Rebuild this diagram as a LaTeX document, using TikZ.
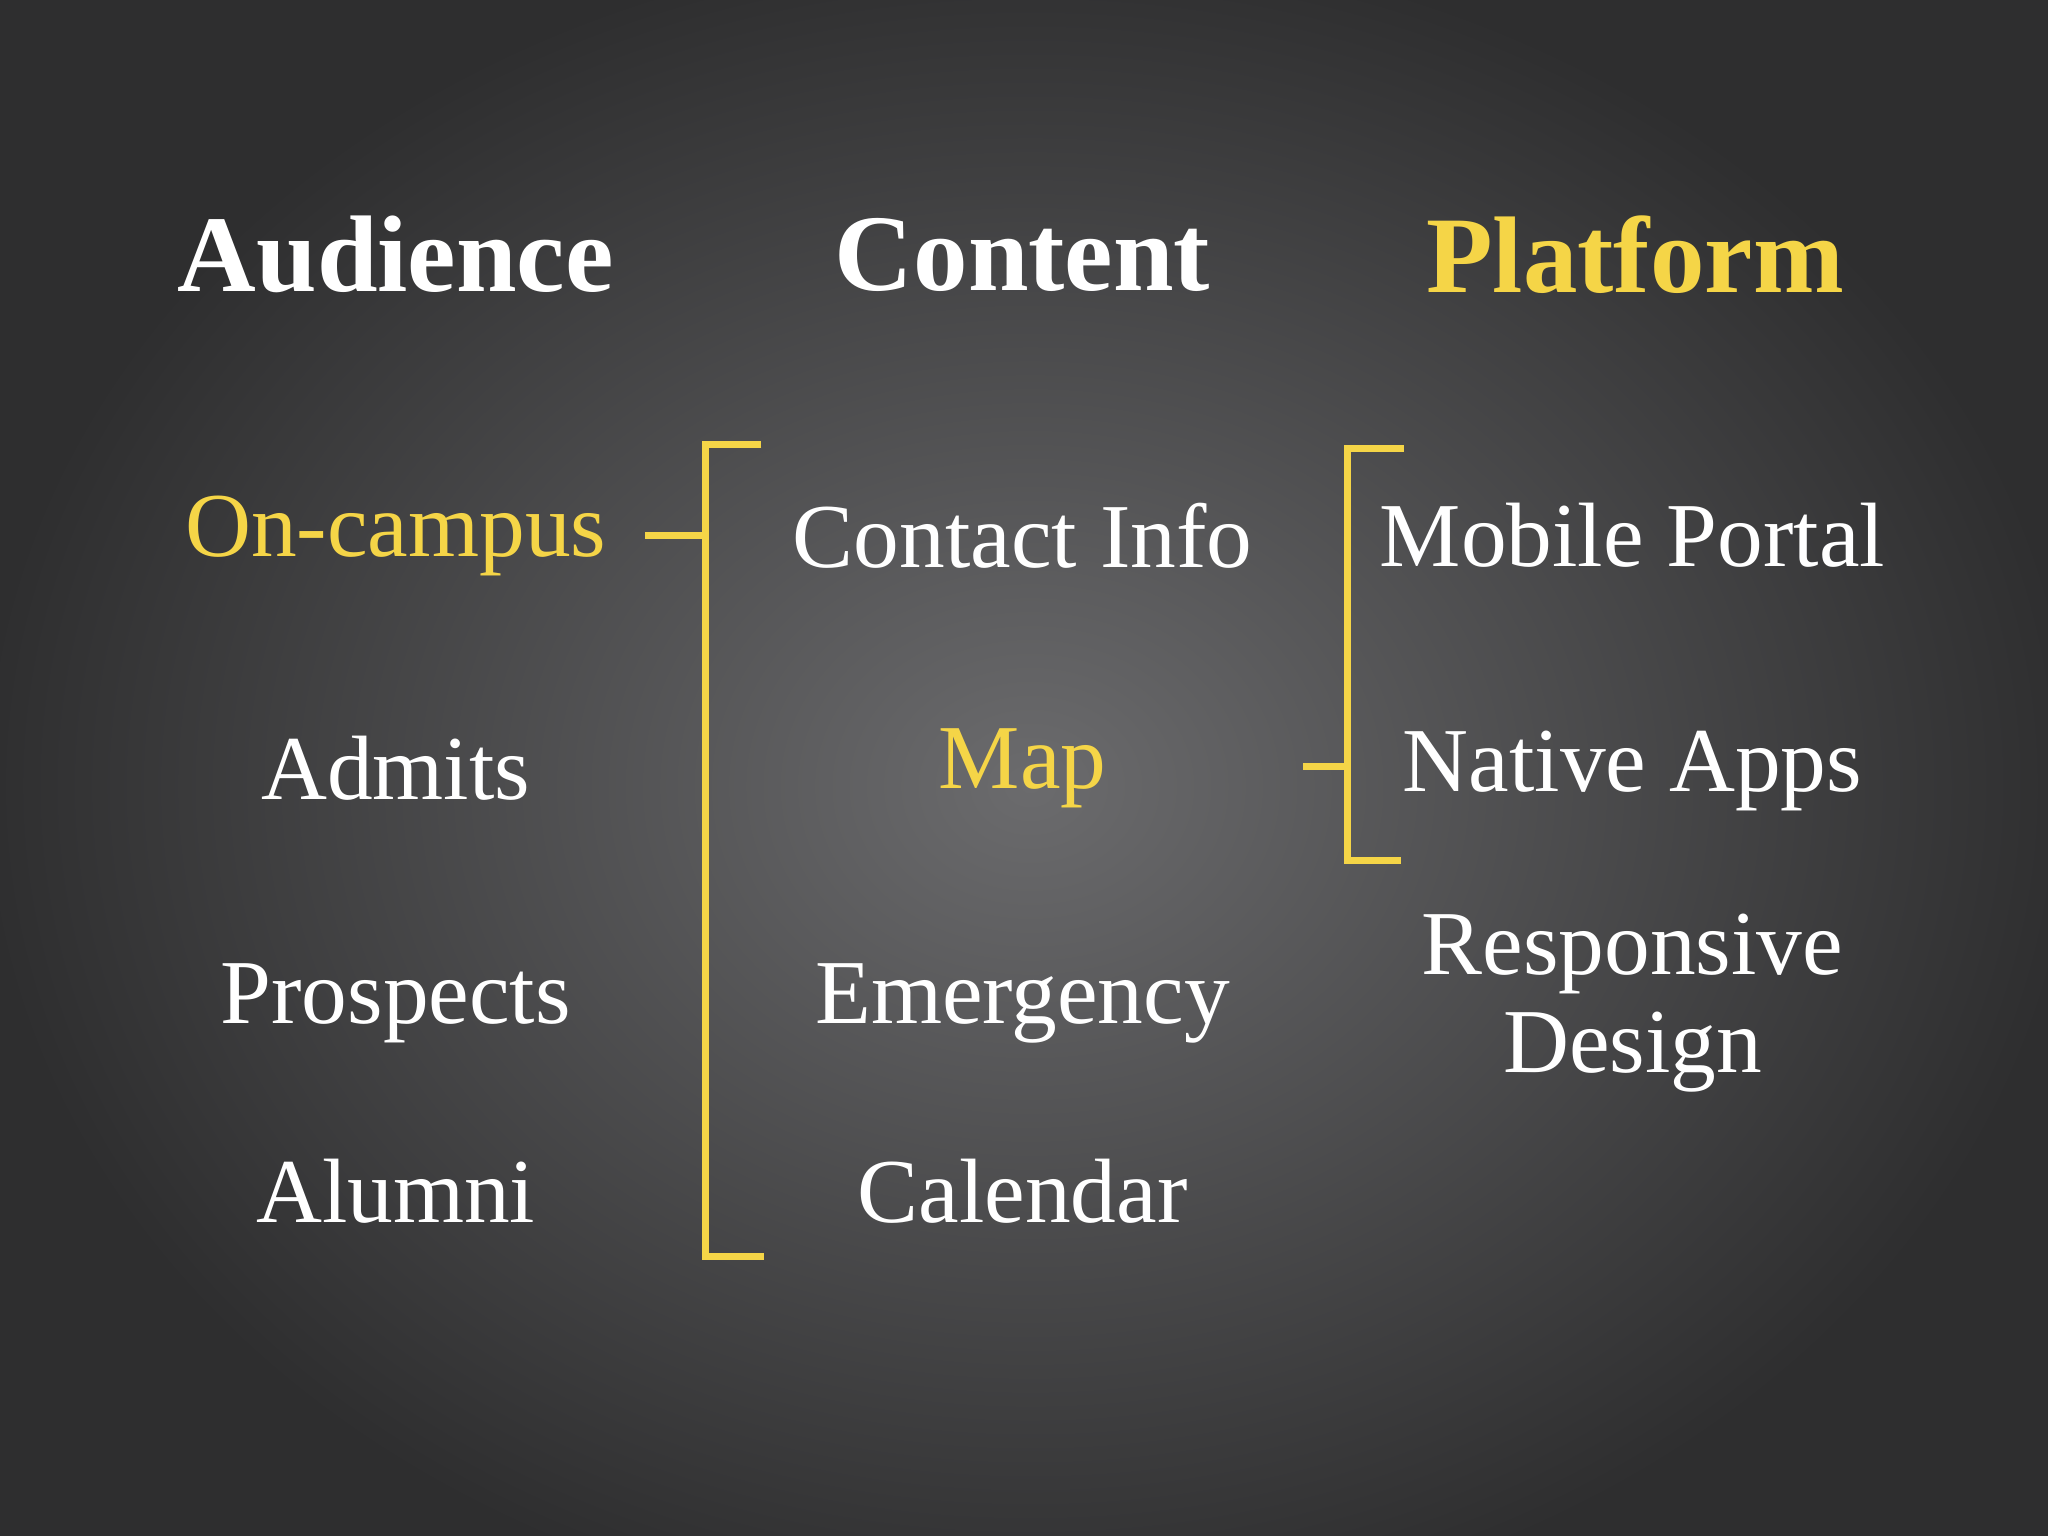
\documentclass[tikz,border=0pt]{standalone}
\usepackage{fontspec}
\setmainfont{Liberation Serif}
\definecolor{bgdark}{HTML}{2E2E2F}
\definecolor{bgmid}{HTML}{6B6B6D}
\definecolor{ylw}{HTML}{F5D547}
\tikzset{
  head/.style={font=\bfseries\fontsize{31}{37}\selectfont, text=white},
  item/.style={font=\fontsize{26}{30}\selectfont, text=white, align=center},
  hi/.style={text=ylw},
  brk/.style={draw=ylw, line width=2pt}
}
\begin{document}
\begin{tikzpicture}
\useasboundingbox (0,0) rectangle (20.48,15.36);
\fill[bgdark] (0,0) rectangle (20.48,15.36);
\shade[inner color=bgmid, outer color=bgdark] (10.3,7.5) ellipse (10.5cm and 8.5cm);
\node[head] (h1) at (3.957,12.812) {Audience};
\node[head] (h2) at (10.226,12.812) {Content};
\node[head,hi] (h3) at (16.351,12.812) {Platform};
\node[item,hi] (oc) at (3.957,10.004) {On-campus};
\node[item] (ad) at (3.957,7.679) {Admits};
\node[item] (pr) at (3.957,5.328) {Prospects};
\node[item] (al) at (3.957,3.448) {Alumni};
\node[item] (ci) at (10.226,10.004) {Contact Info};
\node[item,hi] (mp) at (10.226,7.679) {Map};
\node[item] (em) at (10.226,5.328) {Emergency};
\node[item] (ca) at (10.226,3.448) {Calendar};
\node[item] (mo) at (16.325,10.004) {Mobile Portal};
\node[item] (na) at (16.325,7.653) {Native Apps};
\node[item] (rd) at (16.325,5.328) {Responsive\\[-2pt]Design};
% left bracket
\coordinate (lt) at (7.052,10.918);
\coordinate (lb) at (7.052,2.795);
\coordinate (lm) at (7.052,10.004);
\coordinate (lo) at (6.452,10.004);
\draw[brk] (7.614,10.918) -- (lt) -- (lb) -- (7.640,2.795);
\draw[brk] (lo) -- (lm);
% right bracket
\coordinate (rt) at (13.478,10.879);
\coordinate (rb) at (13.478,6.752);
\coordinate (rm) at (13.478,7.692);
\coordinate (ro) at (13.034,7.692);
\draw[brk] (14.039,10.879) -- (rt) -- (rb) -- (14.013,6.752);
\draw[brk] (ro) -- (rm);
\end{tikzpicture}
\end{document}
